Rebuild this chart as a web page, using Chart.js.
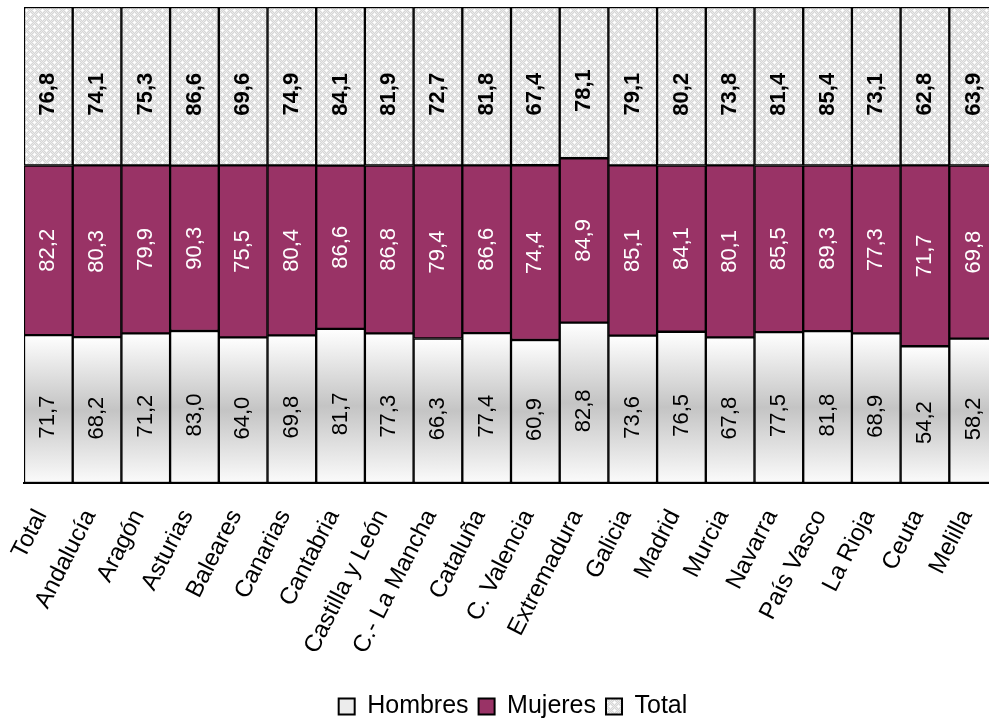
<!DOCTYPE html>
<html>
<head>
<meta charset="utf-8">
<script src="https://cdn.jsdelivr.net/npm/chart.js@4.4.1/dist/chart.umd.min.js"></script>
<style>
  html, body { margin: 0; padding: 0; overflow: hidden; background: #fff; }
  #wrap { position: absolute; left: 0; top: 0; width: 1060px; height: 722px; }
</style>
</head>
<body>
<div id="wrap"><canvas id="chart" width="1060" height="722"></canvas></div>
<script>
const categories = ['Total', 'Andalucía', 'Aragón', 'Asturias', 'Baleares', 'Canarias', 'Cantabria',
  'Castilla y León', 'C.- La Mancha', 'Cataluña', 'C. Valencia', 'Extremadura', 'Galicia', 'Madrid',
  'Murcia', 'Navarra', 'País Vasco', 'La Rioja', 'Ceuta', 'Melilla'];
const hombres = [71.7, 68.2, 71.2, 83.0, 64.0, 69.8, 81.7, 77.3, 66.3, 77.4, 60.9, 82.8, 73.6, 76.5, 67.8, 77.5, 81.8, 68.9, 54.2, 58.2];
const mujeres = [82.2, 80.3, 79.9, 90.3, 75.5, 80.4, 86.6, 86.8, 79.4, 86.6, 74.4, 84.9, 85.1, 84.1, 80.1, 85.5, 89.3, 77.3, 71.7, 69.8];
const total   = [76.8, 74.1, 75.3, 86.6, 69.6, 74.9, 84.1, 81.9, 72.7, 81.8, 67.4, 78.1, 79.1, 80.2, 73.8, 81.4, 85.4, 73.1, 62.8, 63.9];

const FONT = '"Liberation Sans", Arial, sans-serif';

// 100% stacked: each bar share of its own sum
const sums = categories.map((_, i) => hombres[i] + mujeres[i] + total[i]);
const share = arr => arr.map((v, i) => v / sums[i] * 100);
const labelValues = [hombres, mujeres, total];
const fmt = v => v.toFixed(1).replace('.', ',');

// dotted grey pattern for "Total"
function makePattern() {
  const t = document.createElement('canvas');
  t.width = 8; t.height = 8;
  const p = t.getContext('2d');
  p.fillStyle = '#d6d6d6';
  p.fillRect(0, 0, 8, 8);
  p.fillStyle = '#ebebeb';
  for (let y = 0; y < 8; y++) for (let x = 0; x < 8; x++) if ((x + y) % 2 === 0) p.fillRect(x, y, 1, 1);
  p.fillStyle = '#ffffff';
  [[2, 2], [6, 6]].forEach(([x, y]) => {
    p.fillRect(x, y, 1, 1); p.fillRect(x - 1, y, 1, 1); p.fillRect(x + 1, y, 1, 1);
    p.fillRect(x, y - 1, 1, 1); p.fillRect(x, y + 1, 1, 1);
  });
  return document.getElementById('chart').getContext('2d').createPattern(t, 'repeat');
}
const dotted = makePattern();

// white-grey-white gradient per bar for "Hombres"
function hombresFill(context) {
  const chart = context.chart;
  const area = chart.chartArea;
  if (!area || context.type !== 'data') return '#e4e4e4';
  const y = chart.scales.y;
  const top = y.getPixelForValue(share(hombres)[context.dataIndex]);
  const bottom = y.getPixelForValue(0);
  const g = chart.ctx.createLinearGradient(0, top, 0, bottom);
  g.addColorStop(0, '#ffffff');
  g.addColorStop(0.5, '#c4c4c4');
  g.addColorStop(1, '#fbfbfb');
  return g;
}

const legendFills = ['#ececec', '#993366', dotted];
const labelShift = [8, 0, 8]; // label sits a bit low in its segment

const valueLabels = {
  id: 'valueLabels',
  afterDatasetsDraw(chart) {
    const c = chart.ctx;
    chart.data.datasets.forEach((ds, di) => {
      chart.getDatasetMeta(di).data.forEach((bar, i) => {
        c.save();
        c.translate(bar.x, (bar.y + bar.base) / 2 + labelShift[di]);
        c.rotate(-Math.PI / 2);
        c.font = (di === 2 ? 'bold ' : '') + '22px ' + FONT;
        c.fillStyle = di === 1 ? '#ffffff' : '#000000';
        c.textAlign = 'center';
        c.textBaseline = 'middle';
        c.fillText(fmt(labelValues[di][i]), 0, 0);
        c.restore();
      });
    });
  }
};

const hiddenAxis = (pos, w) => ({
  position: pos,
  stacked: true,
  min: 0,
  max: 100,
  grid: { display: false },
  border: { display: false },
  ticks: { display: false },
  afterFit: s => { s.width = w; }
});

new Chart(document.getElementById('chart'), {
  type: 'bar',
  data: {
    labels: categories,
    datasets: [
      { label: 'Hombres', data: share(hombres), backgroundColor: hombresFill },
      { label: 'Mujeres', data: share(mujeres), backgroundColor: '#993366' },
      { label: 'Total', data: share(total), backgroundColor: dotted }
    ]
  },
  options: {
    responsive: false,
    animation: false,
    devicePixelRatio: 1,
    layout: { padding: { left: 0, top: 7, right: 34, bottom: -7 } },
    datasets: {
      bar: {
        barPercentage: 1,
        categoryPercentage: 1,
        borderColor: '#000000',
        borderWidth: 1.5,
        borderSkipped: false
      }
    },
    scales: {
      x: {
        stacked: true,
        grid: { display: false },
        border: { display: true, color: '#000000', width: 2 },
        ticks: {
          color: '#000000',
          font: { family: FONT, size: 24 },
          minRotation: 63,
          maxRotation: 63,
          padding: 14,
          labelOffset: -7
        },
        afterFit: scale => { scale.height = 201; }
      },
      y: hiddenAxis('left', 24),
      y2: hiddenAxis('right', 28)
    },
    plugins: {
      tooltip: { enabled: false },
      legend: {
        position: 'bottom',
        labels: {
          color: '#000000',
          font: { family: FONT, size: 25 },
          boxWidth: 16,
          boxHeight: 16,
          padding: 10,
          generateLabels: chart => chart.data.datasets.map((ds, i) => ({
            text: ds.label,
            fillStyle: legendFills[i],
            strokeStyle: '#000000',
            lineWidth: 2,
            datasetIndex: i,
            hidden: false
          }))
        }
      }
    }
  },
  plugins: [valueLabels]
});
</script>
</body>
</html>
